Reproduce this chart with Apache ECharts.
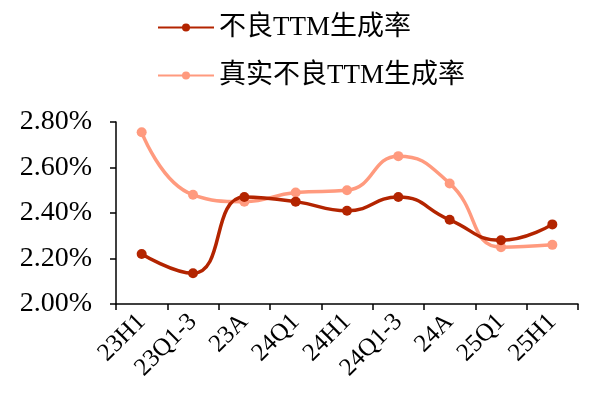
<!DOCTYPE html>
<html>
<head>
<meta charset="utf-8">
<script src="https://cdn.jsdelivr.net/npm/echarts@6/dist/echarts.min.js"></script>
<style>html,body{margin:0;padding:0;background:#fff;}#c{width:600px;height:403px;}</style>
</head>
<body>
<div id="c"></div>
<script>
var categories = ['23H1','23Q1-3','23A','24Q1','24H1','24Q1-3','24A','25Q1','25H1'];
var seriesNames = ['不良TTM生成率','真实不良TTM生成率'];
var npl = [2.22, 2.135, 2.47, 2.45, 2.41, 2.47, 2.37, 2.28, 2.35];
var realNpl = [2.755, 2.48, 2.45, 2.49, 2.50, 2.65, 2.53, 2.25, 2.26];
var yTicks = [2.00, 2.20, 2.40, 2.60, 2.80];

var font = "'Liberation Serif','Times New Roman','Noto Sans CJK SC',serif";
var chart = echarts.init(document.getElementById('c'));
chart.setOption({
  animation: false,
  backgroundColor: '#fff',
  textStyle: {fontFamily: font},
  legend: {
    orient: 'vertical', left: 152, top: 9, itemGap: 21,
    itemWidth: 56, itemHeight: 10,
    textStyle: {fontSize: 27, color: '#000', fontFamily: font},
    data: seriesNames
  },
  grid: {left: 116, right: 22, top: 122, bottom: 99},
  xAxis: {
    type: 'category', data: categories, boundaryGap: true,
    axisLine: {lineStyle: {color: '#000', width: 1.5}},
    axisTick: {show: true, alignWithLabel: false, length: 6, lineStyle: {color: '#000', width: 1.5}},
    axisLabel: {rotate: 45, fontSize: 25, color: '#000', margin: 14, interval: 0, fontFamily: font}
  },
  yAxis: {
    type: 'value', min: yTicks[0], max: yTicks[yTicks.length-1], interval: 0.2,
    splitLine: {show: false},
    axisLine: {show: true, lineStyle: {color: '#000', width: 1.5}},
    axisTick: {show: true, inside: false, length: 6, lineStyle: {color: '#000', width: 1.5}},
    axisLabel: {fontSize: 28, color: '#000', margin: 24, fontFamily: font,
      formatter: function(v){ return v.toFixed(2) + '%'; }}
  },
  series: [
    {name: seriesNames[0], type: 'line', data: npl, smooth: 0.5,
      symbol: 'circle', symbolSize: 10,
      lineStyle: {color: '#B32400', width: 3.5}, itemStyle: {color: '#B32400'}, z: 3},
    {name: seriesNames[1], type: 'line', data: realNpl, smooth: 0.5,
      symbol: 'circle', symbolSize: 10,
      lineStyle: {color: '#FF9A7E', width: 3.5}, itemStyle: {color: '#FF9A7E'}, z: 2}
  ]
});
</script>
</body>
</html>
